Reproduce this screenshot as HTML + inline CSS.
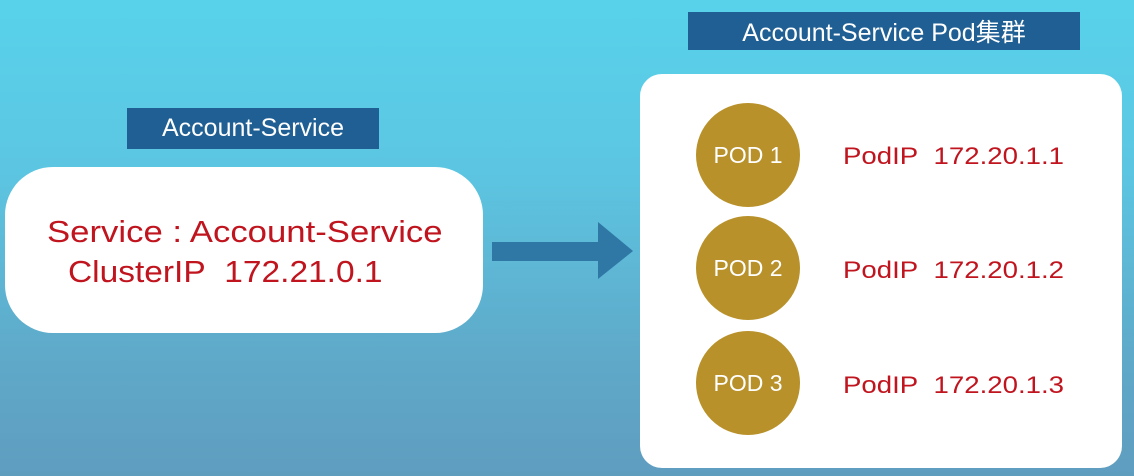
<!DOCTYPE html><html><head><style>
body{margin:0;width:1134px;height:476px;overflow:hidden;background:linear-gradient(180deg,#58d2eb 0%,#5cc6e2 35%,#5fa9c9 75%,#5f9dbf 100%);font-family:"Liberation Sans","Noto Sans CJK SC",sans-serif;position:relative}
.t{position:absolute;background:#1f5f93;color:#fff;font-size:25px;display:flex;align-items:center;justify-content:center}
.box{position:absolute;background:#fff}
.c{position:absolute;width:104px;height:104px;border-radius:50%;background:#b8912a;color:#fff;font-size:23px;display:flex;align-items:center;justify-content:center}
.r{position:absolute;color:#c0141e;font-size:24px;left:843px;transform:scaleX(1.15);transform-origin:left;white-space:nowrap}
</style></head><body>
<div class="t" style="left:688px;top:12px;width:392px;height:38px">Account-Service Pod集群</div>
<div class="t" style="left:127px;top:108px;width:252px;height:41px">Account-Service</div>
<div class="box" style="left:5px;top:167px;width:478px;height:166px;border-radius:48px"></div>
<div style="position:absolute;left:47px;top:212px;color:#c0141e;font-size:31px;line-height:40px;transform:scaleX(1.12);transform-origin:left;white-space:nowrap">Service : Account-Service</div>
<div style="position:absolute;left:68px;top:252px;color:#c0141e;font-size:31px;line-height:40px;transform:scaleX(1.08);transform-origin:left;white-space:nowrap">ClusterIP&nbsp; 172.21.0.1</div>
<svg style="position:absolute;left:0;top:0" width="1134" height="476"><polygon points="492,242 598,242 598,222 633,251 598,279 598,261 492,261" fill="#2f77a5"/></svg>
<div class="box" style="left:640px;top:74px;width:482px;height:394px;border-radius:22px"></div>
<div class="c" style="left:696px;top:103px">POD 1</div>
<div class="c" style="left:696px;top:216px">POD 2</div>
<div class="c" style="left:696px;top:331px">POD 3</div>
<div class="r" style="top:143px">PodIP&nbsp; 172.20.1.1</div>
<div class="r" style="top:257px">PodIP&nbsp; 172.20.1.2</div>
<div class="r" style="top:372px">PodIP&nbsp; 172.20.1.3</div>
</body></html>
